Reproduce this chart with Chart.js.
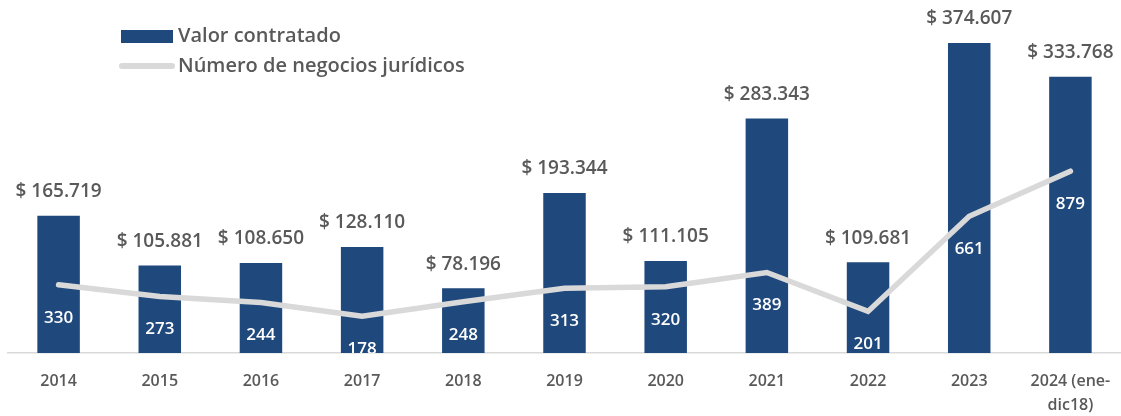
<!DOCTYPE html>
<html>
<head>
<meta charset="utf-8">
<script src="https://cdn.jsdelivr.net/npm/chart.js@4"></script>
<style>
  html, body { margin: 0; padding: 0; background: #ffffff; }
  #wrap { width: 1121px; height: 416px; position: relative; }
</style>
</head>
<body>
<div id="wrap"><canvas id="c" width="1121" height="416"></canvas></div>
<script>
const categories = ['2014', '2015', '2016', '2017', '2018', '2019', '2020', '2021', '2022', '2023', ['2024 (ene-', 'dic18)']];
const valorContratado = [165719, 105881, 108650, 128110, 78196, 193344, 111105, 283343, 109681, 374607, 333768];
const numeroNegocios = [330, 273, 244, 178, 248, 313, 320, 389, 201, 661, 879];
const seriesNames = ['Valor contratado', 'Número de negocios jurídicos'];

const BAR_COLOR = '#1F497D';
const LINE_COLOR = '#D9D9D9';
const TEXT_COLOR = '#595959';
const FONT = '"Open Sans", "Noto Sans", sans-serif';

function fmt(n) {
  return String(n).replace(/\B(?=(\d{3})+(?!\d))/g, '.');
}

const labelPlugin = {
  id: 'labels',
  afterDatasetsDraw(chart) {
    const ctx = chart.ctx;
    const area = chart.chartArea;
    const barMeta = chart.getDatasetMeta(0);
    ctx.save();
    ctx.font = '600 19px ' + FONT;
    ctx.fillStyle = TEXT_COLOR;
    ctx.textAlign = 'center';
    ctx.textBaseline = 'middle';
    barMeta.data.forEach((el, i) => {
      ctx.fillText('$ ' + fmt(chart.data.datasets[0].data[i]), el.x, el.y - 24);
    });
    ctx.restore();
    const lineMeta = chart.getDatasetMeta(1);
    ctx.save();
    ctx.beginPath();
    ctx.rect(area.left, area.top, area.right - area.left, area.bottom - area.top);
    ctx.clip();
    ctx.font = '600 17px ' + FONT;
    ctx.fillStyle = '#FFFFFF';
    ctx.textAlign = 'center';
    ctx.textBaseline = 'middle';
    lineMeta.data.forEach((el, i) => {
      ctx.fillText(String(chart.data.datasets[1].data[i]), el.x, el.y + 33);
    });
    ctx.restore();
  },
  afterDraw(chart) {
    const ctx = chart.ctx;
    ctx.save();
    ctx.fillStyle = BAR_COLOR;
    ctx.fillRect(121, 30, 52, 13);
    ctx.strokeStyle = LINE_COLOR;
    ctx.lineWidth = 6;
    ctx.lineCap = 'round';
    ctx.beginPath();
    ctx.moveTo(122, 66);
    ctx.lineTo(172, 66);
    ctx.stroke();
    ctx.font = '600 20px ' + FONT;
    ctx.fillStyle = TEXT_COLOR;
    ctx.textAlign = 'left';
    ctx.textBaseline = 'middle';
    ctx.fillText(chart.data.datasets[0].label, 178, 36);
    ctx.fillText(chart.data.datasets[1].label, 178, 66);
    ctx.restore();
  }
};

new Chart(document.getElementById('c'), {
  data: {
    labels: categories,
    datasets: [
      {
        type: 'bar',
        label: seriesNames[0],
        data: valorContratado,
        backgroundColor: BAR_COLOR,
        borderWidth: 0,
        yAxisID: 'y',
        order: 2,
        categoryPercentage: 1,
        barPercentage: 0.42
      },
      {
        type: 'line',
        label: seriesNames[1],
        data: numeroNegocios,
        borderColor: LINE_COLOR,
        backgroundColor: LINE_COLOR,
        borderWidth: 5.5,
        borderCapStyle: 'round',
        borderJoinStyle: 'miter',
        pointRadius: 0,
        tension: 0,
        yAxisID: 'y1',
        order: 1
      }
    ]
  },
  options: {
    responsive: false,
    animation: false,
    devicePixelRatio: 1,
    layout: { padding: { top: 22, left: 8, right: 0, bottom: 0 } },
    plugins: {
      legend: { display: false },
      tooltip: { enabled: false }
    },
    scales: {
      x: {
        grid: { display: false, drawTicks: false },
        border: { display: true, color: '#D9D9D9', width: 1.5 },
        ticks: {
          color: TEXT_COLOR,
          font: { family: FONT, size: 16, weight: '600', lineHeight: 1.5 },
          padding: 16,
          maxRotation: 0,
          autoSkip: false
        },
        afterFit(scale) {
          scale.height = 63;
          scale.paddingLeft = 0;
          scale.paddingRight = 0;
        }
      },
      y: {
        display: false,
        min: 0,
        max: 400000
      },
      y1: {
        display: false,
        position: 'right',
        min: 0,
        max: 1600
      }
    }
  },
  plugins: [labelPlugin]
});
</script>
</body>
</html>
